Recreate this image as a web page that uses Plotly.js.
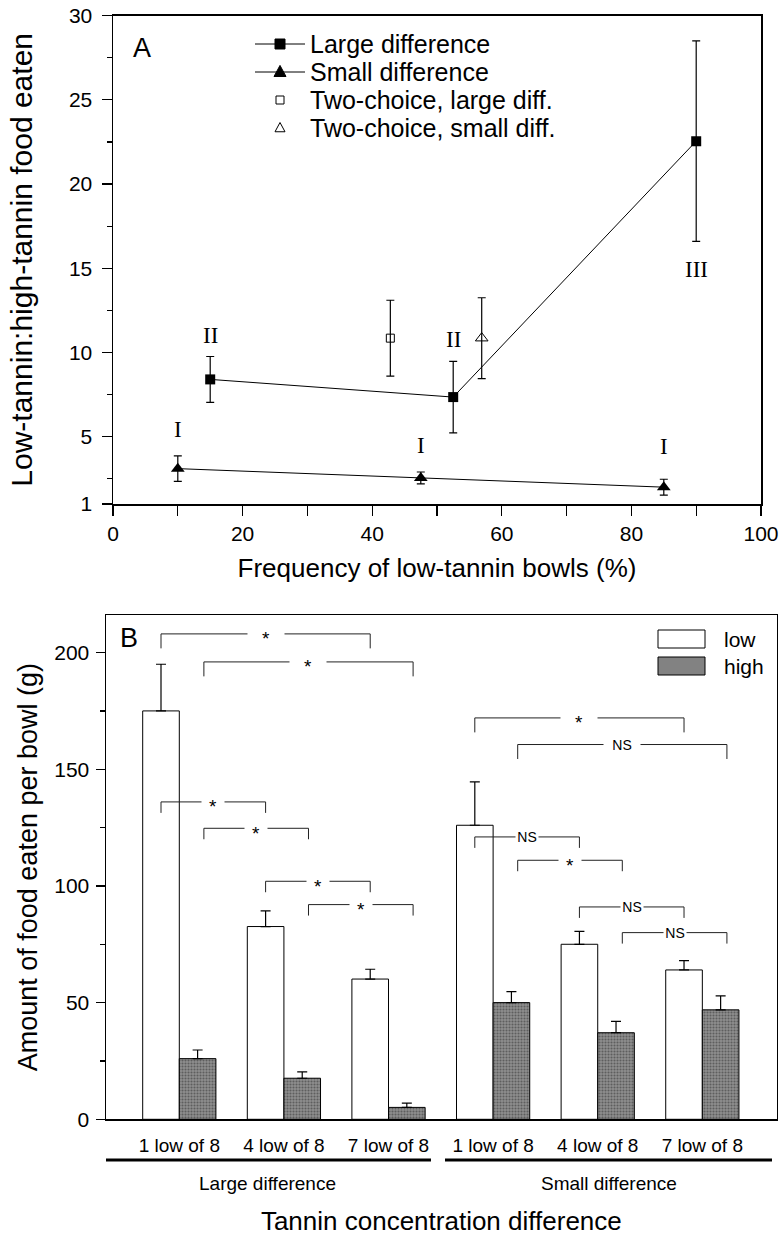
<!DOCTYPE html>
<html><head><meta charset="utf-8">
<script src="https://cdn.plot.ly/plotly-3.0.1.min.js"></script>
<style>html,body{margin:0;padding:0;background:#fff}#chart{width:783px;height:1237px}</style>
</head><body><div id="chart"></div>
<script>
// ---------- Panel A data ----------
const largeX = [15, 52.5, 90];
const largeY = [8.4, 7.35, 22.55];
const largeErr = [1.36, 2.12, 5.95];
const smallX = [10, 47.5, 85];
const smallY = [3.1, 2.55, 2.0];
const smallErr = [0.76, 0.35, 0.47];
const twoLargeX = [42.8];
const twoLargeY = [10.85];
const twoLargeErr = [2.25];
const twoSmallX = [56.9];
const twoSmallY = [10.85];
const twoSmallErr = [2.4];
const romanText = ['I', 'II', 'I', 'II', 'I', 'III'];
const romanX = [10, 15, 47.5, 52.5, 85, 90];
const romanY = [5.45, 11.0, 4.5, 10.75, 4.4, 14.9];
const seriesNamesA = ['Large difference', 'Small difference', 'Two-choice, large diff.', 'Two-choice, small diff.'];
const yTicksA = [1, 5, 10, 15, 20, 25, 30];

// ---------- Panel B data ----------
const categories = ['1 low of 8', '4 low of 8', '7 low of 8', '1 low of 8', '4 low of 8', '7 low of 8'];
const groupNames = ['Large difference', 'Small difference'];
const lowMeans = [175, 82.6, 60.1, 126, 75, 64];
const lowErr = [20, 6.7, 4.2, 18.6, 5.5, 4];
const highMeans = [26, 17.6, 5.1, 50, 37.1, 46.9];
const highErr = [3.7, 2.7, 1.8, 4.7, 4.9, 6];
// comparisons: [from category, from series, to category, to series, height, label]
const comparisons = [
  [0, 'low', 2, 'low', 208, '*'],
  [0, 'high', 2, 'high', 196, '*'],
  [0, 'low', 1, 'low', 136, '*'],
  [0, 'high', 1, 'high', 124.7, '*'],
  [1, 'low', 2, 'low', 102, '*'],
  [1, 'high', 2, 'high', 92, '*'],
  [3, 'low', 5, 'low', 172, '*'],
  [3, 'high', 5, 'high', 160.6, 'NS'],
  [3, 'low', 4, 'low', 121, 'NS'],
  [3, 'high', 4, 'high', 111, '*'],
  [4, 'low', 5, 'low', 91, 'NS'],
  [4, 'high', 5, 'high', 80, 'NS']
];

// ---------- styling / layout ----------
const W = 783, H = 1237;
const FONT = '"Liberation Sans", Arial, Helvetica, sans-serif';
const SERIF = '"Liberation Serif", "Times New Roman", serif';
const px2x = v => v / W;
const px2y = v => 1 - v / H;

const errStyle = {color: '#000', thickness: 1.2, width: 4};
const idx = categories.map((c, i) => i);

const traces = [
  {x: largeX, y: largeY, name: seriesNamesA[0], type: 'scatter', mode: 'lines+markers', showlegend: false,
   line: {color: '#000', width: 1}, marker: {symbol: 'square', size: 10, color: '#000'},
   error_y: Object.assign({type: 'data', array: largeErr, visible: true}, errStyle), xaxis: 'x', yaxis: 'y'},
  {x: smallX, y: smallY, name: seriesNamesA[1], type: 'scatter', mode: 'lines+markers', showlegend: false,
   line: {color: '#000', width: 1}, marker: {symbol: 'triangle-up', size: 12, color: '#000'},
   error_y: Object.assign({type: 'data', array: smallErr, visible: true}, errStyle), xaxis: 'x', yaxis: 'y'},
  {x: twoLargeX, y: twoLargeY, name: seriesNamesA[2], type: 'scatter', mode: 'markers', showlegend: false,
   marker: {symbol: 'square-open', size: 8, color: '#000', line: {width: 1}},
   error_y: Object.assign({type: 'data', array: twoLargeErr, visible: true}, errStyle), xaxis: 'x', yaxis: 'y'},
  {x: twoSmallX, y: twoSmallY, name: seriesNamesA[3], type: 'scatter', mode: 'markers', showlegend: false,
   marker: {symbol: 'triangle-up-open', size: 11, color: '#000', line: {width: 1}},
   error_y: Object.assign({type: 'data', array: twoSmallErr, visible: true}, errStyle), xaxis: 'x', yaxis: 'y'},
  {x: idx, y: lowMeans, name: 'low', type: 'bar', showlegend: false, xaxis: 'x2', yaxis: 'y2',
   marker: {color: '#fff', line: {color: '#000', width: 1}},
   error_y: {type: 'data', symmetric: false, array: lowErr, arrayminus: lowErr.map(() => 0), color: '#000', thickness: 1.2, width: 5}},
  {x: idx, y: highMeans, name: 'high', type: 'bar', showlegend: false, xaxis: 'x2', yaxis: 'y2',
   marker: {color: '#8e8e8e', line: {color: '#000', width: 1},
            pattern: {shape: '.', fillmode: 'overlay', fgcolor: '#2e2e2e', size: 3, solidity: 0.4}},
   error_y: {type: 'data', symmetric: false, array: highErr, arrayminus: highErr.map(() => 0), color: '#000', thickness: 1.2, width: 5}}
];

const BAR_W = 0.35;
const shapes = [];
const annotations = [];

// roman numeral labels (panel A)
romanText.forEach((t, i) => annotations.push({x: romanX[i], y: romanY[i], xref: 'x', yref: 'y', text: t,
  xanchor: 'center', yanchor: 'middle', showarrow: false, font: {family: SERIF, size: 23, color: '#000'}}));

// panel letters
annotations.push({x: px2x(142), y: px2y(48), xref: 'paper', yref: 'paper', xanchor: 'center', yanchor: 'middle',
  text: 'A', showarrow: false, font: {family: FONT, size: 27, color: '#000'}});
annotations.push({x: px2x(128.5), y: px2y(637.5), xref: 'paper', yref: 'paper', xanchor: 'center', yanchor: 'middle',
  text: 'B', showarrow: false, font: {family: FONT, size: 27, color: '#000'}});

// legend for panel A (drawn manually so rows match the original spacing)
const legRows = [44, 72, 100, 128];
const legLine = [255, 305], legMark = 280, legText = 308;
const legendMarks = [
  {line: true, kind: 'rect', fill: '#000', half: 5},
  {line: true, kind: 'tri', fill: '#000', half: 6},
  {line: false, kind: 'rect', fill: '#fff', half: 4},
  {line: false, kind: 'tri', fill: '#fff', half: 5}
];
legendMarks.forEach((m, i) => {
  const yy = px2y(legRows[i]);
  if (m.line) shapes.push({type: 'line', xref: 'paper', yref: 'paper', x0: px2x(legLine[0]), x1: px2x(legLine[1]),
    y0: yy, y1: yy, line: {color: '#000', width: 1}});
  const h = m.half;
  const path = m.kind === 'rect'
    ? `M${-h},${-h} L${h},${-h} L${h},${h} L${-h},${h} Z`
    : `M${-h},${-h * 0.75} L${h},${-h * 0.75} L0,${h * 1.1} Z`;
  shapes.push({type: 'path', xref: 'paper', yref: 'paper', xsizemode: 'pixel', ysizemode: 'pixel',
    xanchor: px2x(legMark), yanchor: yy, path: path, fillcolor: m.fill, line: {color: '#000', width: 1}});
  annotations.push({x: px2x(legText), y: yy, xref: 'paper', yref: 'paper', xanchor: 'left', yanchor: 'middle',
    text: seriesNamesA[i], showarrow: false, font: {family: FONT, size: 25, color: '#000'}});
});

// significance brackets (panel B)
const barCenter = (i, s) => s === 'low' ? i - BAR_W / 2 : i + BAR_W / 2 + 0.06;
comparisons.forEach(c => {
  const x0 = barCenter(c[0], c[1]), x1 = barCenter(c[2], c[3]), y = c[4];
  const wide = (c[2] - c[0]) >= 2;
  const d = wide ? 6.2 : 4.7;
  shapes.push({type: 'path', xref: 'x2', yref: 'y2',
    path: `M${x0},${y - d} L${x0},${y} L${x1},${y} L${x1},${y - d}`,
    line: {color: '#222', width: 1}});
  const isStar = c[5] === '*';
  annotations.push({x: (x0 + x1) / 2, y: y, xref: 'x2', yref: 'y2', text: c[5], showarrow: false,
    xanchor: 'center', yanchor: 'middle',
    bgcolor: '#fff', width: wide ? 36 : 22, borderpad: 0,
    yshift: isStar ? -5 : 0,
    font: {family: FONT, size: isStar ? 19 : 14, color: '#000'}});
});

// group underlines & labels
const groupSpans = [[-0.72, 2.406], [2.54, 5.666]];
groupSpans.forEach((g, i) => {
  shapes.push({type: 'line', xref: 'x2', yref: 'paper', x0: g[0], x1: g[1], y0: px2y(1160), y1: px2y(1160),
    line: {color: '#000', width: 3}});
  annotations.push({x: (g[0] + g[1]) / 2, y: px2y(1183), xref: 'x2', yref: 'paper', xanchor: 'center', yanchor: 'middle',
    text: groupNames[i], showarrow: false, font: {family: FONT, size: 19, color: '#000'}});
});

// legend for panel B
shapes.push({type: 'rect', xref: 'paper', yref: 'paper', x0: px2x(658), x1: px2x(705), y0: px2y(648), y1: px2y(630),
  line: {color: '#000', width: 1}, fillcolor: '#fff'});
shapes.push({type: 'rect', xref: 'paper', yref: 'paper', x0: px2x(658), x1: px2x(705), y0: px2y(675), y1: px2y(657),
  line: {color: '#000', width: 1}, fillcolor: '#828282'});
annotations.push({x: px2x(722), y: px2y(639), xref: 'paper', yref: 'paper', xanchor: 'left', yanchor: 'middle', text: 'low',
  showarrow: false, font: {family: FONT, size: 21, color: '#000'}});
annotations.push({x: px2x(722), y: px2y(666), xref: 'paper', yref: 'paper', xanchor: 'left', yanchor: 'middle', text: 'high',
  showarrow: false, font: {family: FONT, size: 21, color: '#000'}});

const axisBase = {showline: true, linecolor: '#000', linewidth: 1.5, mirror: true, showgrid: false,
  zeroline: false, ticks: 'outside', tickcolor: '#000', tickwidth: 1.2, automargin: false,
  tickfont: {family: FONT, size: 21, color: '#000'}};

const layout = {
  width: W, height: H, margin: {l: 0, r: 0, t: 0, b: 0},
  paper_bgcolor: '#fff', plot_bgcolor: '#fff', font: {family: FONT, color: '#000'},
  showlegend: false,
  barmode: 'group', bargap: 0.3, bargroupgap: 0,
  xaxis: Object.assign({}, axisBase, {domain: [px2x(113), px2x(761)], range: [0, 100],
    tickvals: [0, 20, 40, 60, 80, 100], ticklen: 10,
    minor: {tickvals: [10, 30, 50, 70, 90], ticks: 'outside', ticklen: 10, tickcolor: '#000', tickwidth: 1.2},
    title: {text: 'Frequency of low-tannin bowls (%)', font: {family: FONT, size: 26, color: '#000'}, standoff: 15},
    anchor: 'y'}),
  yaxis: Object.assign({}, axisBase, {domain: [px2y(504), px2y(15.7)], range: [1, 30],
    tickvals: yTicksA, ticklen: 10, ticklabelstandoff: 5,
    minor: {tickvals: [2.5, 7.5, 12.5, 17.5, 22.5, 27.5], ticks: 'outside', ticklen: 5, tickcolor: '#000', tickwidth: 1.2},
    title: {text: 'Low-tannin:high-tannin food eaten', font: {family: FONT, size: 30, color: '#000'}, standoff: 27},
    anchor: 'x'}),
  xaxis2: Object.assign({}, axisBase, {domain: [px2x(106), px2x(776.7)], range: [-0.7008, 5.711],
    tickvals: idx, ticktext: categories, ticks: '', ticklabelstandoff: 8,
    tickfont: {family: FONT, size: 19, color: '#000'},
    title: {text: 'Tannin concentration difference', font: {family: FONT, size: 26, color: '#000'}, standoff: 57},
    anchor: 'y2'}),
  yaxis2: Object.assign({}, axisBase, {domain: [px2y(1119.3), px2y(615)], range: [0, 216.1],
    tickvals: [0, 50, 100, 150, 200], ticklen: 9, ticklabelstandoff: 2,
    minor: {tickvals: [25, 75, 125, 175], ticks: 'outside', ticklen: 5, tickcolor: '#000', tickwidth: 1.2},
    title: {text: 'Amount of food eaten per bowl (g)', font: {family: FONT, size: 27, color: '#000'}, standoff: 9},
    anchor: 'x2'}),
  shapes: shapes,
  annotations: annotations
};

Plotly.newPlot('chart', traces, layout, {staticPlot: true, displayModeBar: false});
</script>
</body></html>
